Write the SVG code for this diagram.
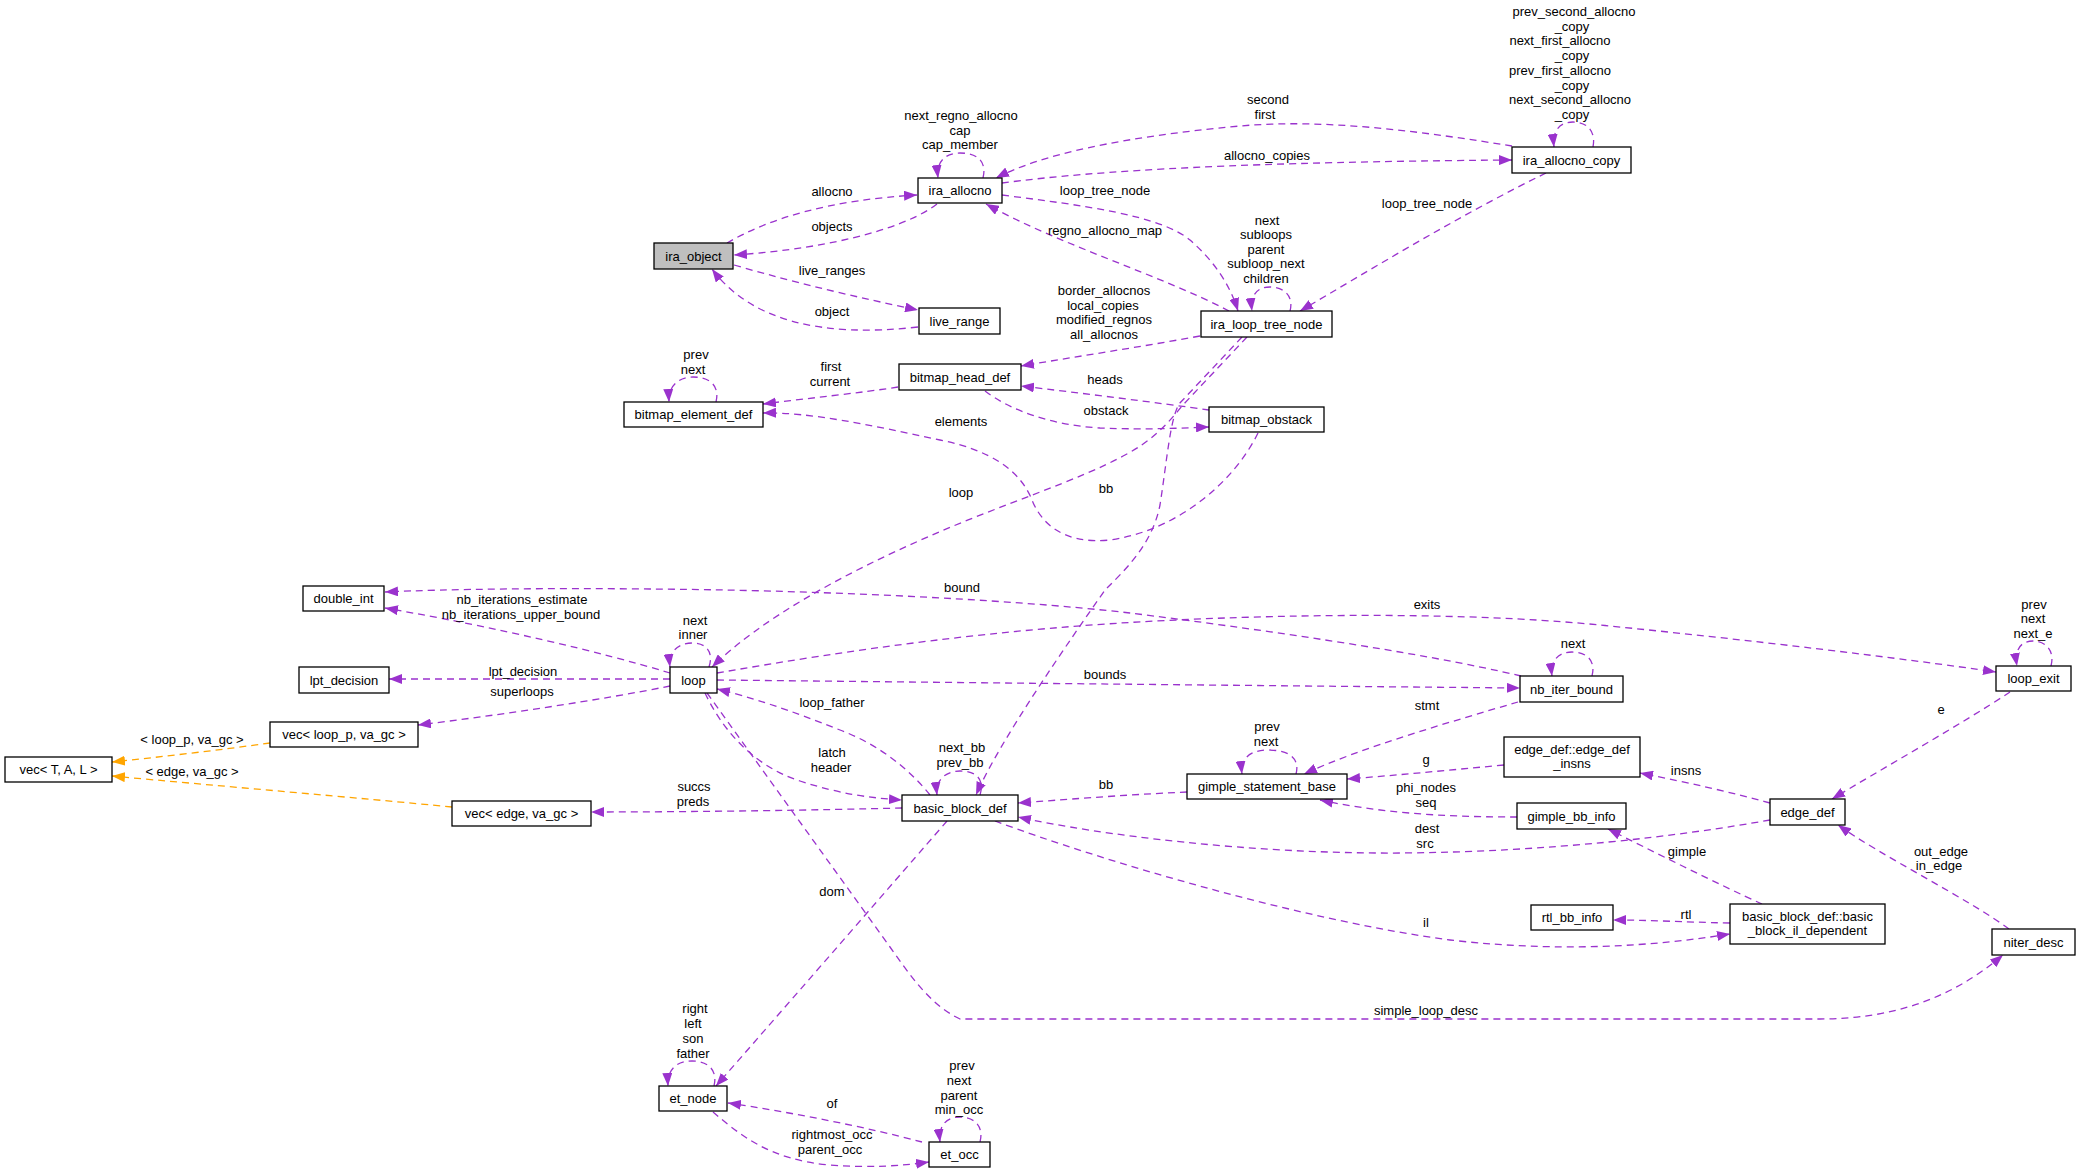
<svg xmlns="http://www.w3.org/2000/svg" width="2080" height="1173" viewBox="0 0 2080 1173">
<defs>
<style>
.n rect{fill:#fff;stroke:#000;stroke-width:1.3}
.n rect.g{fill:#bfbfbf}
text{font-family:"Liberation Sans",Arial,sans-serif;font-size:13px;text-anchor:middle;fill:#000}
.e path{fill:none;stroke:#9a32cd;stroke-width:1.3;stroke-dasharray:7,5}
.e path.p{marker-end:url(#ap)}
.e path.o{stroke:#ffa500;marker-end:url(#ao)}
</style>
<marker id="ap" viewBox="0 0 13 10" refX="13" refY="5" markerUnits="userSpaceOnUse" markerWidth="13" markerHeight="10" orient="auto"><path d="M0,0 L13,5 L0,10 z" fill="#9a32cd"/></marker>
<marker id="ao" viewBox="0 0 13 10" refX="13" refY="5" markerUnits="userSpaceOnUse" markerWidth="13" markerHeight="10" orient="auto"><path d="M0,0 L13,5 L0,10 z" fill="#ffa500"/></marker>
</defs>
<rect width="2080" height="1173" fill="#fff"/>
<g id="connectors" class="e">
<path class="p" d="M727,243 C770,218 830,200 917,195"/>
<path class="p" d="M937,204 C910,225 840,248 734,255"/>
<path class="p" d="M734,265 C800,284 860,298 918,310"/>
<path class="p" d="M918,327 C820,338 750,320 712,269"/>
<path class="p" d="M983,178 C987,162 978,153 960,153 C947,153 936,160 938,178"/>
<path class="p" d="M1512,146 C1430,133 1330,118 1240,126 C1120,137 1040,155 996,178"/>
<path class="p" d="M1002,183 C1100,170 1250,162 1512,160"/>
<path class="p" d="M1593,147 C1596,132 1588,122 1573,122 C1562,122 1552,128 1554,147"/>
<path class="p" d="M1002,195 C1080,205 1160,215 1190,240 C1215,262 1230,285 1238,311"/>
<path class="p" d="M1229,311 C1160,275 1060,245 986,204"/>
<path class="p" d="M1290,311 C1294,296 1284,287 1270,287 C1258,287 1250,294 1252,311"/>
<path class="p" d="M1546,173 C1460,215 1370,270 1300,311"/>
<path class="p" d="M1200,336 C1140,347 1080,356 1021,366"/>
<path class="p" d="M898,387 C860,393 810,398 763,404"/>
<path class="p" d="M716,402 C720,386 710,377 693,377 C680,377 668,385 669,402"/>
<path class="p" d="M1209,410 C1160,403 1080,393 1021,386"/>
<path class="p" d="M985,391 C1010,410 1050,425 1100,428 C1150,430 1180,428 1209,427"/>
<path class="p" d="M1258,433 C1235,480 1180,530 1110,540 C1060,545 1040,520 1032,500 C1020,470 990,450 940,440 C870,425 810,412 763,413"/>
<path class="p" d="M1247,337 L1182,406 C1167,425 1150,442 1125,455 C1080,480 1000,505 930,536 C840,575 760,620 712,667"/>
<path class="p" d="M1242,337 L1179,404 C1170,420 1167,460 1160,505 C1152,545 1125,570 1105,590 C1070,640 1000,740 976,795"/>
<path class="p" d="M709,667 C714,652 706,643 693,643 C680,643 668,650 670,667"/>
<path class="p" d="M1521,676 C1420,652 1250,628 1130,613 C1000,598 800,590 650,589 C550,588 450,589 385,592"/>
<path class="p" d="M670,673 C600,652 500,628 385,608"/>
<path class="p" d="M670,679 L389,679"/>
<path class="p" d="M670,686 C600,700 500,715 418,725"/>
<path class="o" d="M270,743 C220,750 160,757 112,762"/>
<path class="o" d="M452,807 C360,798 220,786 112,776"/>
<path class="p" d="M902,808 C820,810 700,812 591,812"/>
<path class="p" d="M717,673 C850,650 1000,628 1176,620 C1350,612 1500,615 1600,625 C1750,640 1900,658 1996,672"/>
<path class="p" d="M717,680 C1000,683 1300,686 1520,688"/>
<path class="p" d="M1592,676 C1596,661 1587,652 1572,652 C1559,652 1550,660 1552,676"/>
<path class="p" d="M930,795 C910,770 880,745 840,730 C790,710 750,697 717,689"/>
<path class="p" d="M705,693 C720,725 750,765 800,781 C840,794 870,798 902,800"/>
<path class="p" d="M707,693 L890,947 C910,975 930,1005 960,1019 L1820,1019 C1890,1019 1950,1000 2003,955"/>
<path class="p" d="M947,821 C900,875 800,990 716,1086"/>
<path class="p" d="M714,1086 C718,1070 708,1061 692,1061 C678,1061 667,1068 668,1086"/>
<path class="p" d="M922,1142 C870,1128 790,1112 728,1103"/>
<path class="p" d="M713,1112 C740,1135 770,1160 830,1165 C870,1168 900,1166 929,1162"/>
<path class="p" d="M980,1142 C984,1127 975,1117 960,1117 C948,1117 938,1124 940,1142"/>
<path class="p" d="M980,795 C985,779 976,771 960,771 C948,771 935,778 937,795"/>
<path class="p" d="M1187,792 C1120,795 1060,800 1018,803"/>
<path class="p" d="M1296,774 C1300,759 1290,750 1268,750 C1252,750 1240,757 1242,774"/>
<path class="p" d="M1518,702 C1450,722 1360,748 1304,774"/>
<path class="p" d="M1504,765 C1450,770 1400,775 1347,779"/>
<path class="p" d="M1517,817 C1460,817 1390,815 1320,800"/>
<path class="p" d="M1770,820 C1680,836 1550,852 1400,853 C1250,854 1100,835 1018,817"/>
<path class="p" d="M1770,803 C1730,792 1690,783 1640,773"/>
<path class="p" d="M2010,692 C1960,725 1880,770 1832,799"/>
<path class="p" d="M2051,666 C2055,651 2046,641 2033,641 C2022,641 2014,648 2017,666"/>
<path class="p" d="M2009,929 C1970,900 1880,855 1838,825"/>
<path class="p" d="M1762,904 C1720,885 1650,850 1608,829"/>
<path class="p" d="M1730,923 C1680,922 1650,920 1613,920"/>
<path class="p" d="M995,821 C1100,860 1300,920 1450,940 C1580,955 1680,942 1730,934"/>
<g id="edge-labels">
<text x="832" y="196">allocno</text>
<text x="832" y="231">objects</text>
<text x="832" y="275">live_ranges</text>
<text x="832" y="316">object</text>
<text x="961" y="120">next_regno_allocno</text>
<text x="960" y="134.5">cap</text>
<text x="960" y="149">cap_member</text>
<text x="1268" y="104">second</text>
<text x="1265" y="118.5">first</text>
<text x="1267" y="159.5">allocno_copies</text>
<text x="1574" y="16">prev_second_allocno</text>
<text x="1572" y="31">_copy</text>
<text x="1560" y="45">next_first_allocno</text>
<text x="1572" y="60">_copy</text>
<text x="1560" y="75">prev_first_allocno</text>
<text x="1572" y="89.5">_copy</text>
<text x="1570" y="104">next_second_allocno</text>
<text x="1572" y="119">_copy</text>
<text x="1105" y="195">loop_tree_node</text>
<text x="1105" y="235">regno_allocno_map</text>
<text x="1267" y="224.5">next</text>
<text x="1266" y="239">subloops</text>
<text x="1266" y="253.5">parent</text>
<text x="1266" y="268">subloop_next</text>
<text x="1266" y="283">children</text>
<text x="1427" y="207.5">loop_tree_node</text>
<text x="1104" y="295">border_allocnos</text>
<text x="1103" y="309.5">local_copies</text>
<text x="1104" y="324">modified_regnos</text>
<text x="1104" y="338.5">all_allocnos</text>
<text x="831" y="371">first</text>
<text x="830" y="385.5">current</text>
<text x="696" y="359">prev</text>
<text x="693" y="373.5">next</text>
<text x="1105" y="383.5">heads</text>
<text x="1106" y="414.5">obstack</text>
<text x="961" y="425.5">elements</text>
<text x="961" y="497">loop</text>
<text x="1106" y="492.5">bb</text>
<text x="962" y="592">bound</text>
<text x="522" y="603.5">nb_iterations_estimate</text>
<text x="521" y="618.5">nb_iterations_upper_bound</text>
<text x="523" y="676">lpt_decision</text>
<text x="522" y="696">superloops</text>
<text x="192" y="743.5">&lt; loop_p, va_gc &gt;</text>
<text x="192" y="775.5">&lt; edge, va_gc &gt;</text>
<text x="695" y="624.5">next</text>
<text x="693" y="639">inner</text>
<text x="1427" y="608.5">exits</text>
<text x="1105" y="678.5">bounds</text>
<text x="1573" y="647.5">next</text>
<text x="2034" y="608.5">prev</text>
<text x="2033" y="623">next</text>
<text x="2033" y="637.5">next_e</text>
<text x="832" y="707">loop_father</text>
<text x="832" y="756.5">latch</text>
<text x="831" y="771.5">header</text>
<text x="962" y="752">next_bb</text>
<text x="960" y="766.5">prev_bb</text>
<text x="694" y="791">succs</text>
<text x="693" y="805.5">preds</text>
<text x="1106" y="788.5">bb</text>
<text x="1267" y="731">prev</text>
<text x="1266" y="745.5">next</text>
<text x="1427" y="709.5">stmt</text>
<text x="1426" y="763.5">g</text>
<text x="1426" y="791.5">phi_nodes</text>
<text x="1426" y="807">seq</text>
<text x="1427" y="833">dest</text>
<text x="1425" y="848">src</text>
<text x="1686" y="775">insns</text>
<text x="1941" y="713.5">e</text>
<text x="1941" y="855.5">out_edge</text>
<text x="1939" y="870">in_edge</text>
<text x="1687" y="856">gimple</text>
<text x="1686" y="918.5">rtl</text>
<text x="1426" y="927">il</text>
<text x="832" y="895.5">dom</text>
<text x="1426" y="1015">simple_loop_desc</text>
<text x="695" y="1012.5">right</text>
<text x="693" y="1027.5">left</text>
<text x="693" y="1043">son</text>
<text x="693" y="1057.5">father</text>
<text x="832" y="1107.5">of</text>
<text x="832" y="1138.5">rightmost_occ</text>
<text x="830" y="1153.5">parent_occ</text>
<text x="962" y="1069.5">prev</text>
<text x="959" y="1084.5">next</text>
<text x="959" y="1099.5">parent</text>
<text x="959" y="1113.5">min_occ</text>
</g>
</g>
<g id="ira_object" class="n"><rect class="g" x="654" y="243" width="79" height="26"/><text x="693.5" y="260.5">ira_object</text></g>
<g id="ira_allocno" class="n"><rect x="918" y="178" width="84" height="25"/><text x="960" y="195">ira_allocno</text></g>
<g id="live_range" class="n"><rect x="919" y="308" width="81" height="26"/><text x="959.5" y="325.5">live_range</text></g>
<g id="ira_allocno_copy" class="n"><rect x="1512" y="147" width="119" height="26"/><text x="1571.5" y="164.5">ira_allocno_copy</text></g>
<g id="ira_loop_tree_node" class="n"><rect x="1201" y="311" width="131" height="26"/><text x="1266.5" y="328.5">ira_loop_tree_node</text></g>
<g id="bitmap_head_def" class="n"><rect x="899" y="364" width="122" height="26"/><text x="960" y="381.5">bitmap_head_def</text></g>
<g id="bitmap_element_def" class="n"><rect x="624" y="402" width="139" height="25"/><text x="693.5" y="419">bitmap_element_def</text></g>
<g id="bitmap_obstack" class="n"><rect x="1209" y="407" width="115" height="25"/><text x="1266.5" y="424">bitmap_obstack</text></g>
<g id="double_int" class="n"><rect x="303" y="586" width="81" height="25"/><text x="343.5" y="603">double_int</text></g>
<g id="lpt_decision" class="n"><rect x="299" y="667" width="90" height="26"/><text x="344" y="684.5">lpt_decision</text></g>
<g id="vec_loop_p" class="n"><rect x="270" y="722" width="148" height="25"/><text x="344" y="739">vec&lt; loop_p, va_gc &gt;</text></g>
<g id="vec_T_A_L" class="n"><rect x="5" y="757" width="107" height="25"/><text x="58.5" y="774">vec&lt; T, A, L &gt;</text></g>
<g id="vec_edge" class="n"><rect x="452" y="801" width="139" height="25"/><text x="521.5" y="818">vec&lt; edge, va_gc &gt;</text></g>
<g id="loop" class="n"><rect x="670" y="667" width="47" height="26"/><text x="693.5" y="684.5">loop</text></g>
<g id="basic_block_def" class="n"><rect x="902" y="795" width="116" height="26"/><text x="960" y="812.5">basic_block_def</text></g>
<g id="gimple_statement_base" class="n"><rect x="1187" y="774" width="160" height="25"/><text x="1267" y="791">gimple_statement_base</text></g>
<g id="nb_iter_bound" class="n"><rect x="1520" y="676" width="103" height="26"/><text x="1571.5" y="693.5">nb_iter_bound</text></g>
<g id="loop_exit" class="n"><rect x="1996" y="666" width="75" height="25"/><text x="2033.5" y="683">loop_exit</text></g>
<g id="edge_def_insns" class="n"><rect x="1504" y="737" width="136" height="40"/><text x="1572" y="753.5">edge_def::edge_def</text><text x="1572" y="768">_insns</text></g>
<g id="gimple_bb_info" class="n"><rect x="1517" y="803" width="109" height="26"/><text x="1571.5" y="820.5">gimple_bb_info</text></g>
<g id="edge_def" class="n"><rect x="1770" y="799" width="75" height="26"/><text x="1807.5" y="816.5">edge_def</text></g>
<g id="rtl_bb_info" class="n"><rect x="1531" y="905" width="82" height="25"/><text x="1572" y="922">rtl_bb_info</text></g>
<g id="basic_block_il_dependent" class="n"><rect x="1730" y="904" width="155" height="40"/><text x="1807.5" y="920.5">basic_block_def::basic</text><text x="1807.5" y="935">_block_il_dependent</text></g>
<g id="niter_desc" class="n"><rect x="1992" y="929" width="83" height="26"/><text x="2033.5" y="946.5">niter_desc</text></g>
<g id="et_node" class="n"><rect x="659" y="1086" width="68" height="25"/><text x="693" y="1103">et_node</text></g>
<g id="et_occ" class="n"><rect x="929" y="1142" width="61" height="25"/><text x="959.5" y="1159">et_occ</text></g>
</svg>
